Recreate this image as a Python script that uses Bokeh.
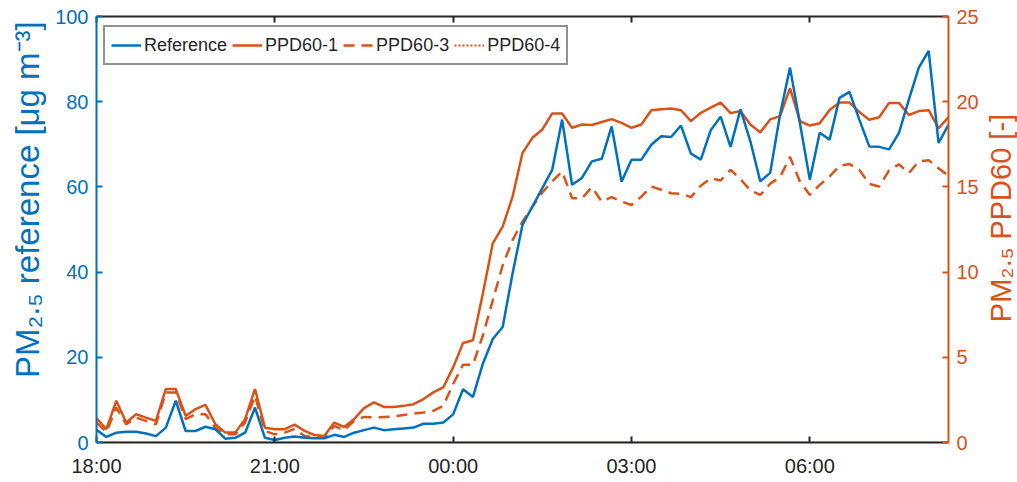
import math
import pandas as pd
from bokeh.plotting import figure
from bokeh.layouts import row
from bokeh.models import (LinearAxis, DatetimeAxis, Range1d, FixedTicker,
                          DatetimeTickFormatter, Legend, LegendItem, Label)
from bokeh.embed import file_html
from bokeh.resources import INLINE

# ---------------- data (10-minute samples from 18:00) ----------------
start_time = "2019-01-01 18:00"
sample_step = "10min"

reference = [
    3.0, 1.3, 2.3, 2.5, 2.5, 2.1, 1.5, 3.5, 9.8, 2.7,
    2.7, 3.7, 3.1, 0.9, 1.1, 2.3, 8.2, 1.1, 0.6, 1.1,
    1.4, 1.1, 1.0, 1.0, 1.8, 1.3, 2.3, 2.9, 3.5, 2.9,
    3.1, 3.3, 3.5, 4.4, 4.4, 4.7, 6.6, 12.5, 10.7, 18.5,
    24.3, 27.1, 39.7, 51.1, 55.4, 59.7, 64.0, 75.8, 60.5, 62.1,
    66.0, 66.6, 74.2, 61.2, 66.4, 66.4, 69.9, 71.9, 71.7, 74.4,
    67.8, 66.4, 73.3, 76.5, 69.4, 78.2, 70.7, 61.3, 63.3, 77.0,
    88.0, 75.0, 61.7, 72.7, 71.1, 80.9, 82.3, 75.8, 69.5, 69.4,
    68.8, 72.7, 80.5, 88.0, 91.9, 70.3, 74.6,
]

ppd60_1 = [
    1.43, 0.78, 2.45, 1.17, 1.66, 1.46, 1.27, 3.14, 3.14, 1.56,
    1.96, 2.21, 1.07, 0.58, 0.58, 1.37, 3.14, 0.87, 0.78, 0.78,
    1.05, 0.68, 0.44, 0.38, 1.17, 0.91, 1.37, 2.02, 2.35, 2.09,
    2.09, 2.15, 2.25, 2.55, 2.94, 3.23, 4.41, 5.84, 6.00, 8.74,
    11.69, 12.67, 14.43, 16.99, 17.88, 18.37, 19.31, 19.31, 18.47, 18.66,
    18.63, 18.81, 18.98, 18.76, 18.47, 18.66, 19.50, 19.55, 19.60, 19.50,
    18.86, 19.35, 19.65, 19.94, 19.33, 19.45, 18.66, 18.20, 18.96, 19.15,
    20.80, 18.86, 18.60, 18.74, 19.52, 19.96, 19.95, 19.40, 18.94, 19.09,
    19.93, 19.93, 19.22, 19.45, 19.50, 18.44, 19.09,
]

ppd60_3 = [
    1.17, 0.62, 2.05, 1.07, 1.46, 1.27, 1.07, 2.94, 2.94, 1.37,
    1.66, 1.66, 0.87, 0.48, 0.48, 1.17, 2.74, 0.68, 0.48, 0.58,
    0.80, 0.38, 0.30, 0.30, 0.97, 0.72, 1.27, 1.50, 1.47, 1.50,
    1.53, 1.62, 1.70, 1.76, 1.86, 2.15, 3.43, 4.57, 4.57, 6.28,
    8.34, 10.40, 11.88, 12.96, 13.84, 14.67, 15.32, 15.90, 14.34, 14.32,
    14.99, 14.14, 14.40, 14.14, 13.94, 14.43, 15.02, 14.83, 14.63, 14.60,
    14.40, 15.07, 15.50, 15.38, 16.00, 15.46, 14.79, 14.53, 15.18, 15.58,
    16.76, 15.32, 14.53, 15.12, 15.61, 16.24, 16.34, 16.00, 15.18, 15.02,
    15.97, 16.32, 15.81, 16.50, 16.56, 16.10, 15.65,
]

ppd60_4 = [
    0, 0, 0, 0, 0, 0, 0, 0, 0, 0,
    0, 0, 0, 0, 0, 0, 0, 0, 0, 0,
    0, 0, 0, 0, 0, 0, 0, 0, 0, 0,
    0, 0, 0, 0, 0, 0, 0, 0, 0, 0,
    0, 0, 0, 0, 0, 0, 0, 0, 0, 0,
    0, 0, 0, 0, 0, 0, 0, 0, 0, 0,
    0, 0, 0, 0, 0, 0, 0, 0, 0, 0,
    0, 0, 0, 0, 0, 0, 0, 0, 0, 0,
    0, 0, 0, 0, 0, 0, 0,
]

series_names = ["Reference", "PPD60-1", "PPD60-3", "PPD60-4"]
tick_times = ["2019-01-01 18:00", "2019-01-01 21:00", "2019-01-02 00:00",
              "2019-01-02 03:00", "2019-01-02 06:00"]
left_ticks = [0, 20, 40, 60, 80, 100]
right_ticks = [0, 5, 10, 15, 20, 25]
left_title = "PM\u2082.\u2085 reference [\u03bcg m\u207b\u00b3]"
right_title = "PM\u2082.\u2085 PPD60 [-]"

# ---------------- styling ----------------
BLUE = "#0072BD"
ORANGE = "#D95319"
DARK = "#262626"
FONT = "Liberation Sans"
H = 482

times = pd.date_range(start_time, periods=len(reference), freq=sample_step)
tick_ms = [pd.Timestamp(t).timestamp() * 1000.0 for t in tick_times]

p = figure(width=935, height=H, x_axis_type="datetime",
           output_backend="svg", toolbar_location=None,
           x_range=Range1d(times[0], times[-1]), y_range=Range1d(0, 100),
           min_border_left=50, min_border_right=30, min_border_top=16,
           min_border_bottom=40)
p.extra_y_ranges = {"ppd": Range1d(0, 25)}
p.xgrid.visible = False
p.ygrid.visible = False
p.outline_line_color = None
p.background_fill_color = "white"
p.border_fill_color = "white"

# bottom axis
xa = p.xaxis[0]
xa.ticker = FixedTicker(ticks=tick_ms)
xa.formatter = DatetimeTickFormatter(hours="%H:%M", days="%H:%M", minutes="%H:%M")
xa.axis_line_color = DARK
xa.axis_line_width = 2
xa.major_tick_line_color = DARK
xa.major_tick_line_width = 2
xa.major_tick_in = 6
xa.major_tick_out = 0
xa.minor_tick_line_color = None
xa.major_label_text_font = FONT
xa.major_label_text_font_size = "20px"
xa.major_label_text_color = DARK
xa.major_label_standoff = 12

# top axis (box line with ticks, no labels)
ta = DatetimeAxis(ticker=FixedTicker(ticks=tick_ms))
ta.axis_line_color = DARK
ta.axis_line_width = 2
ta.major_tick_line_color = DARK
ta.major_tick_line_width = 2
ta.major_tick_in = 6
ta.major_tick_out = 0
ta.minor_tick_line_color = None
ta.major_label_text_color = None
ta.major_label_text_font_size = "1px"
ta.major_label_standoff = 0
p.add_layout(ta, "above")

# left axis
ya = p.yaxis[0]
ya.ticker = FixedTicker(ticks=left_ticks)
ya.axis_line_color = BLUE
ya.axis_line_width = 2
ya.major_tick_line_color = BLUE
ya.major_tick_line_width = 2
ya.major_tick_in = 6
ya.major_tick_out = 0
ya.minor_tick_line_color = None
ya.major_label_text_font = FONT
ya.major_label_text_font_size = "20px"
ya.major_label_text_color = BLUE
ya.major_label_standoff = 8

# right axis
ra = LinearAxis(y_range_name="ppd", ticker=FixedTicker(ticks=right_ticks))
ra.axis_line_color = ORANGE
ra.axis_line_width = 2
ra.major_tick_line_color = ORANGE
ra.major_tick_line_width = 2
ra.major_tick_in = 6
ra.major_tick_out = 0
ra.minor_tick_line_color = None
ra.major_label_text_font = FONT
ra.major_label_text_font_size = "20px"
ra.major_label_text_color = ORANGE
ra.major_label_standoff = 8
p.add_layout(ra, "right")

# lines
r1 = p.line(times, ppd60_1, color=ORANGE, line_width=2.5, y_range_name="ppd")
r3 = p.line(times, ppd60_3, color=ORANGE, line_width=2.5, line_dash="11 7",
            y_range_name="ppd")
r4 = p.line(times, ppd60_4, color=ORANGE, line_width=2, line_dash="2 2",
            y_range_name="ppd")
r0 = p.line(times, reference, color=BLUE, line_width=2.5)

legend = Legend(items=[LegendItem(label=series_names[0], renderers=[r0]),
                       LegendItem(label=series_names[1], renderers=[r1]),
                       LegendItem(label=series_names[2], renderers=[r3]),
                       LegendItem(label=series_names[3], renderers=[r4])],
                orientation="horizontal", location=(7, 377))
legend.label_text_font = FONT
legend.label_text_font_size = "18px"
legend.label_text_color = DARK
legend.border_line_color = DARK
legend.border_line_width = 2
legend.background_fill_color = "white"
legend.background_fill_alpha = 1
legend.glyph_width = 30
legend.glyph_height = 24
legend.label_standoff = 3
legend.spacing = 5
legend.padding = 6
legend.margin = 0
p.add_layout(legend, "center")


def title_strip(width, text, color, x_frac, y_frac, size):
    s = figure(width=width, height=H, output_backend="svg",
               toolbar_location=None, x_axis_location=None,
               y_axis_location=None, min_border=0,
               x_range=Range1d(0, 1), y_range=Range1d(0, 1))
    s.outline_line_color = None
    s.xgrid.visible = False
    s.ygrid.visible = False
    s.background_fill_color = "white"
    s.border_fill_color = "white"
    s.add_layout(Label(x=x_frac, y=y_frac, text=text, angle=math.pi / 2,
                       angle_units="rad", text_align="center",
                       text_baseline="middle", text_font=FONT,
                       text_font_size=size, text_color=color))
    return s


left_strip = title_strip(46, left_title, BLUE, 0.587, 0.570, "33px")
right_strip = title_strip(36, right_title, ORANGE, 0.53, 0.527, "29px")

layout = row(left_strip, p, right_strip)
open("out.html", "w").write(file_html(layout, INLINE))
